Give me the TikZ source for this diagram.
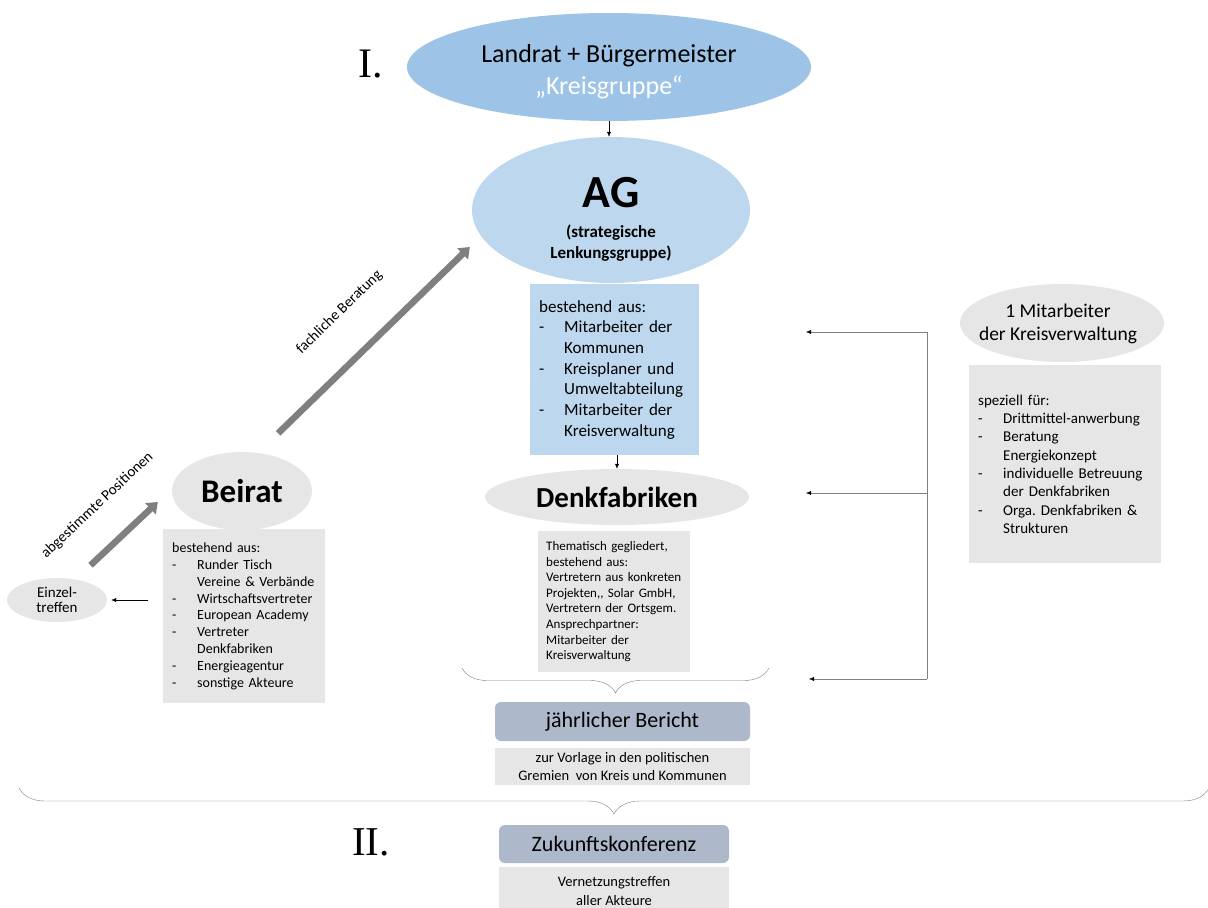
\documentclass[tikz,border=0pt]{standalone}
\usepackage{fontspec}
\setmainfont{Carlito}
\newfontfamily\romfont{Liberation Serif}
\usetikzlibrary{shapes.geometric,arrows.meta,decorations.pathreplacing,positioning}
\frenchspacing

\definecolor{kreisblau}{HTML}{9DC3E6}
\definecolor{hellblau}{HTML}{BDD7EE}
\definecolor{hellgrau}{HTML}{E7E6E6}
\definecolor{berichtblau}{HTML}{ADB9CA}
\definecolor{pfeilgrau}{HTML}{7F7F7F}

\newcommand{\strich}{\makebox[25pt][l]{-}}
\newcommand{\weiter}{\hspace*{25pt}}

\begin{document}
\begin{tikzpicture}[x=1pt, y=-1pt,
  oval/.style={ellipse, fill=hellgrau, inner sep=0pt},
  kasten/.style={rectangle, fill=hellgrau, inner xsep=9pt, inner ysep=0pt, align=left, anchor=north west},
  bericht/.style={rectangle, rounded corners=6pt, fill=berichtblau, inner sep=0pt, font=\fontsize{22}{26}\selectfont},
  dick/.style={line width=6.5pt, pfeilgrau, -{Triangle[length=10pt,width=15pt]}},
  duenn/.style={-{Latex[length=5pt,width=4pt,color=black]}, thin},
  klammer/.style={decorate, decoration={brace, mirror, amplitude=25pt}, pfeilgrau, thin}]
  \useasboundingbox (0,0) rectangle (1208,908);

  % stage I
  \node[font=\romfont\fontsize{42}{42}\selectfont] (eins) at (371,64) {I.};
  \node[oval, fill=kreisblau, minimum width=404pt, minimum height=108pt] (kreis) at (609,67) {};
  \node[align=center, font=\fontsize{26}{32}\selectfont] (kreistext) at (609,72)
        {Landrat + Bürgermeister\\\textcolor{white}{„Kreisgruppe“}};

  % AG
  \node[oval, fill=hellblau, minimum width=278pt, minimum height=146pt] (ag) at (611,210) {};
  \node[font=\bfseries\fontsize{46}{46}\selectfont] (agtitel) at (611,193) {AG};
  \node[align=center, font=\bfseries\fontsize{17}{21}\selectfont] (agtext) at (611,243)
        {(strategische\\Lenkungsgruppe)};
  \node[kasten, fill=hellblau, text width=151pt, minimum height=171pt,
        font=\fontsize{17}{20.7}\selectfont] (agliste) at (530,284)
        {bestehend aus:\\\strich Mitarbeiter der\\\weiter Kommunen\\\strich Kreisplaner und\\
         \weiter Umweltabteilung\\\strich Mitarbeiter der\\\weiter Kreisverwaltung};
  \draw[duenn] (kreis.south) -- (kreis.south |- ag.north);

  % Denkfabriken
  \node[oval, minimum width=264pt, minimum height=56pt,
        font=\bfseries\fontsize{29}{29}\selectfont] (denk) at (617,497) {Denkfabriken};
  \node[kasten, inner xsep=8pt, text width=136pt, minimum height=141pt,
        font=\fontsize{13}{15.6}\selectfont] (denkliste) at (538,531)
        {Thematisch gegliedert,\\bestehend aus:\\Vertretern aus konkreten\\Projekten,{},
         Solar GmbH,\\Vertretern der Ortsgem.\\Ansprechpartner:\\Mitarbeiter der\\Kreisverwaltung};
  \draw[duenn] (agliste.south -| denk.north) -- (denk.north);

  % bericht
  \draw[klammer] (462,668) -- (769,668);
  \node[bericht, minimum width=255pt, minimum height=39pt] (bericht) at (622.5,721.5) {jährlicher Bericht};
  \node[kasten, anchor=north, align=center, minimum width=255pt, minimum height=37pt,
        font=\fontsize{14.5}{18}\selectfont, below=7pt of bericht] (vorlage)
        {zur Vorlage in den politischen\\Gremien~ von Kreis und Kommunen};

  % stage II
  \draw[klammer, decoration={amplitude=26pt}] (19,788) -- (1209,788);
  \node[font=\romfont\fontsize{41}{41}\selectfont] (zwei) at (371,842) {II.};
  \node[bericht, minimum width=230pt, minimum height=38pt] (zukunft) at (614,844) {Zukunftskonferenz};
  \node[kasten, anchor=north, align=center, minimum width=230pt, minimum height=48pt,
        font=\fontsize{14.5}{19}\selectfont, below=4pt of zukunft] (vernetzung)
        {Vernetzungstreffen\\aller Akteure};

  % Beirat
  \node[oval, minimum width=140pt, minimum height=78pt,
        font=\bfseries\fontsize{33}{33}\selectfont] (beirat) at (242,491) {Beirat};
  \node[kasten, text width=144pt, minimum height=174pt,
        font=\fontsize{14}{16.8}\selectfont] (beiratliste) at (163,529)
        {bestehend aus:\\\strich Runder Tisch\\\weiter Vereine \& Verbände\\\strich Wirtschaftsvertreter\\
         \strich European Academy\\\strich Vertreter\\\weiter Denkfabriken\\\strich Energieagentur\\
         \strich sonstige Akteure};
  \node[oval, minimum width=100pt, minimum height=44pt, align=center,
        font=\fontsize{15}{15.5}\selectfont] (einzel) at (57,600) {Einzel-\\treffen};
  \coordinate (einzelstart) at (148,600);
  \draw[duenn, shorten >=4pt] (einzelstart) -- (einzel.east);

  % thick arrows
  \draw[dick] ([shift={(-2pt,19pt)}]einzel.north east) -- ([shift={(-14pt,-11pt)}]beirat.west)
        node[midway, sloped, above=26pt, text=black, font=\fontsize{15}{15}\selectfont] (abgtext)
        {abgestimmte Positionen};
  \draw[dick] ([shift={(-13.5pt,30pt)}]beirat.north east) -- ([shift={(-2pt,-37pt)}]ag.west)
        node[pos=0.48, sloped, above=31pt, text=black, font=\fontsize{15}{15}\selectfont] (fachtext)
        {fachliche Beratung};

  % Mitarbeiter der Kreisverwaltung
  \node[oval, minimum width=204pt, minimum height=78pt] (mita) at (1062,323) {};
  \node[align=center, font=\fontsize{19.5}{23}\selectfont] (mitatext) at (1058,324)
        {1 Mitarbeiter\\der Kreisverwaltung};
  \node[kasten, text width=174pt, minimum height=198pt,
        font=\fontsize{15}{18.3}\selectfont] (mitaliste) at (969,365)
        {speziell für:\\\strich Drittmittel-anwerbung\\\strich Beratung\\\weiter Energiekonzept\\
         \strich individuelle Betreuung\\\weiter der Denkfabriken\\\strich Orga. Denkfabriken \&\\
         \weiter Strukturen};

  % connectors to the left
  \coordinate (knick1) at (927,332);
  \coordinate (knick2) at (927,493);
  \coordinate (knick3) at (927,679);
  \coordinate (ziel1) at (806,332);
  \coordinate (ziel2) at (806,493);
  \coordinate (ziel3) at (809,679);
  \draw[pfeilgrau, thin] (knick1) -- (knick3);
  \draw[duenn, pfeilgrau] (knick1) -- (ziel1);
  \draw[duenn, pfeilgrau] (knick2) -- (ziel2);
  \draw[duenn, pfeilgrau] (knick3) -- (ziel3);
\end{tikzpicture}
\end{document}
